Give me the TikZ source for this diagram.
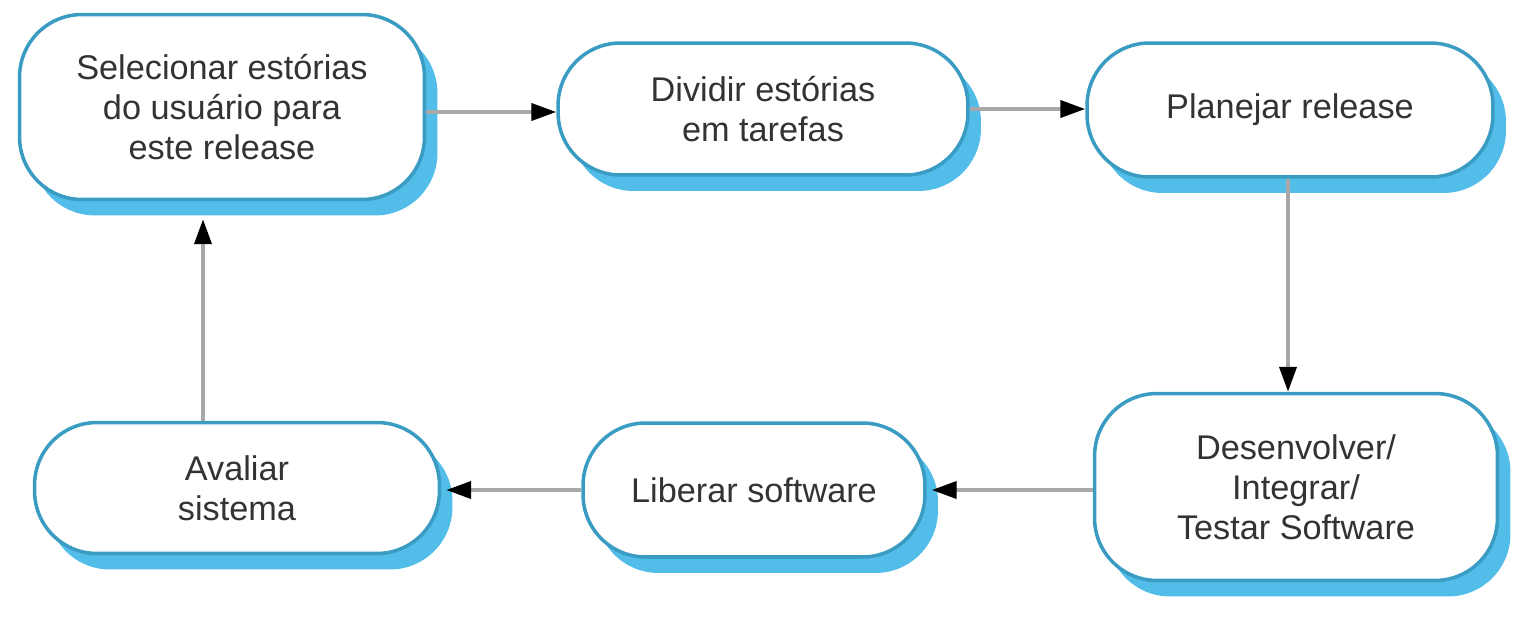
\documentclass[tikz,border=0pt]{standalone}
\usepackage{fontspec}
\setmainfont{Liberation Sans}
\usetikzlibrary{shapes, arrows.meta, positioning, shadows}
\definecolor{borde}{HTML}{3A9CC2}
\definecolor{sombra}{HTML}{52BDE8}
\definecolor{linea}{HTML}{A8A8A8}
\definecolor{texto}{HTML}{333333}
\tikzstyle{etapa} = [draw=borde, fill=white, line width=2pt, rectangle, rounded corners=1.25cm, align=center, text=texto, font=\fontsize{19.5}{22.8}\selectfont, drop shadow={shadow xshift=0.26cm, shadow yshift=-0.32cm, fill=sombra, opacity=1}]
\tikzstyle{flecha} = [draw=linea, line width=2.2pt, -{Triangle[color=black, length=0.5cm, width=0.34cm]}]

\begin{document}
\begin{tikzpicture}[x=0.02cm, y=-0.02cm]
	\useasboundingbox (0,0) rectangle (1517,622);
	% fila de arriba
	\node[etapa, minimum width=8.1cm, minimum height=3.7cm] (sel) at (222,107) {Selecionar estórias\\do usuário para\\este release};
	\node[etapa, minimum width=8.2cm, minimum height=2.64cm] (div) at (763,109) {Dividir estórias\\em tarefas};
	\node[etapa, minimum width=8.12cm, minimum height=2.68cm] (plan) at (1290,110) {Planejar release};
	% fila de abajo
	\node[etapa, minimum width=8.06cm, minimum height=3.74cm] (des) at (1296,487) {Desenvolver/\\Integrar/\\Testar Software};
	\node[etapa, minimum width=6.84cm, minimum height=2.68cm] (lib) at (754,490) {Liberar software};
	\node[etapa, minimum width=8.1cm, minimum height=2.62cm] (ava) at (237,488) {Avaliar\\sistema};
	% flechas
	\draw[flecha] ([yshift=-0.1cm]sel.east) -- ([yshift=-0.1cm]sel.east -| div.west);
	\draw[flecha] (div.east) -- (div.east -| plan.west);
	\draw[flecha] ([xshift=-0.04cm]plan.south) -- ([xshift=-0.04cm]plan.south |- des.north);
	\draw[flecha] (lib.east -| des.west) -- ([xshift=0.1cm]lib.east);
	\draw[flecha] (lib.west) -- ([xshift=0.1cm]lib.west -| ava.east);
	\draw[flecha] ([xshift=-0.68cm]ava.north) coordinate (a) -- ([yshift=-0.36cm]a |- sel.south);
\end{tikzpicture}
\end{document}
